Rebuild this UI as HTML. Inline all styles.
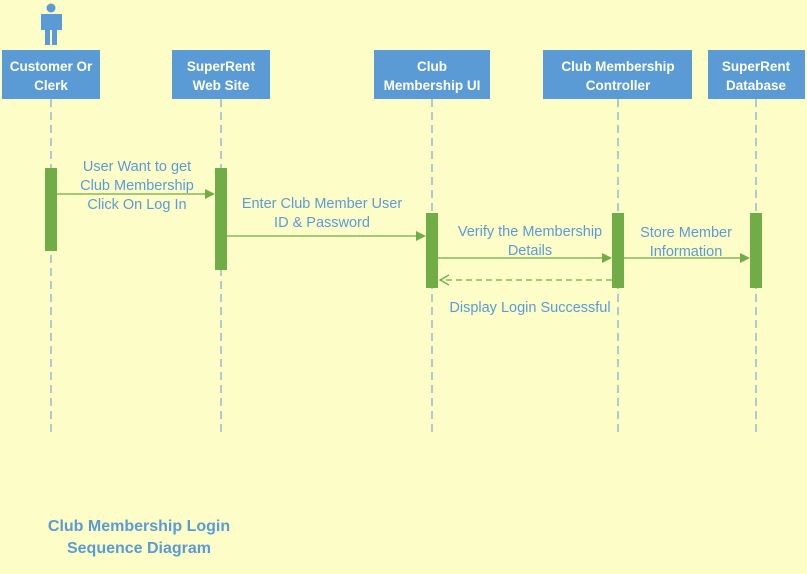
<!DOCTYPE html>
<html><head><style>
body{margin:0;width:807px;height:569px;background:#fdfdc8;overflow:hidden;font-family:"Liberation Sans",sans-serif}
</style></head><body>
<svg width="807" height="569" xmlns="http://www.w3.org/2000/svg" font-family="Liberation Sans, sans-serif">
<rect width="807" height="569" fill="#fdfdc8"/>
<g stroke="#5b9bd5" stroke-width="1" stroke-dasharray="8,5">
<line x1="51" y1="99" x2="51" y2="432"/>
<line x1="221" y1="99" x2="221" y2="432"/>
<line x1="432" y1="99" x2="432" y2="432"/>
<line x1="618" y1="99" x2="618" y2="432"/>
<line x1="756" y1="99" x2="756" y2="432"/>
</g>
<g fill="#5b9bd5">
<circle cx="51" cy="8" r="4.5"/>
<rect x="41" y="14" width="21" height="16"/>
<rect x="45" y="28" width="5" height="17"/><rect x="52" y="28" width="5" height="17"/>
<rect x="2" y="50" width="98" height="49"/>
<rect x="172" y="50" width="98" height="49"/>
<rect x="374" y="50" width="116" height="49"/>
<rect x="543" y="50" width="149" height="49"/>
<rect x="708" y="50" width="97" height="49"/>
</g>
<g fill="#fff" font-weight="bold" font-size="13.5" text-anchor="middle">
<text x="51" y="71">Customer Or</text><text x="51" y="90">Clerk</text>
<text x="221" y="71">SuperRent</text><text x="221" y="90">Web Site</text>
<text x="432" y="71">Club</text><text x="432" y="90">Membership UI</text>
<text x="618" y="71">Club Membership</text><text x="618" y="90">Controller</text>
<text x="756" y="71">SuperRent</text><text x="756" y="90">Database</text>
</g>
<g fill="#70ad47">
<rect x="45" y="168" width="12" height="83"/>
<rect x="215" y="168" width="12" height="102"/>
<rect x="426" y="213" width="12" height="75"/>
<rect x="612" y="213" width="12" height="75"/>
<rect x="750" y="213" width="12" height="75"/>
</g>
<g stroke="#70ad47" stroke-width="1.3" fill="none">
<line x1="57" y1="194" x2="210" y2="194"/>
<line x1="227" y1="236" x2="421" y2="236"/>
<line x1="438" y1="258" x2="607" y2="258"/>
<line x1="624" y1="258" x2="745" y2="258"/>
<line x1="612" y1="280" x2="440" y2="280" stroke-dasharray="6,4"/>
<polyline points="449,275 440,280 449,285"/>
</g>
<g fill="#70ad47">
<polygon points="215,194 205,189 205,199"/>
<polygon points="426,236 416,231 416,241"/>
<polygon points="612,258 602,253 602,263"/>
<polygon points="750,258 740,253 740,263"/>
</g>
<g fill="#5b9bd5" font-size="14.5" text-anchor="middle">
<text x="137" y="171">User Want to get</text>
<text x="137" y="190">Club Membership</text>
<text x="137" y="209">Click On Log In</text>
<text x="322" y="208">Enter Club Member User</text>
<text x="322" y="227">ID &amp; Password</text>
<text x="530" y="236">Verify the Membership</text>
<text x="530" y="255">Details</text>
<text x="686" y="237">Store Member</text>
<text x="686" y="256">Information</text>
<text x="530" y="312">Display Login Successful</text>
</g>
<g fill="#5b9bd5" font-size="16" font-weight="bold" text-anchor="middle">
<text x="139" y="531">Club Membership Login</text>
<text x="139" y="553">Sequence Diagram</text>
</g>
</svg>
</body></html>
